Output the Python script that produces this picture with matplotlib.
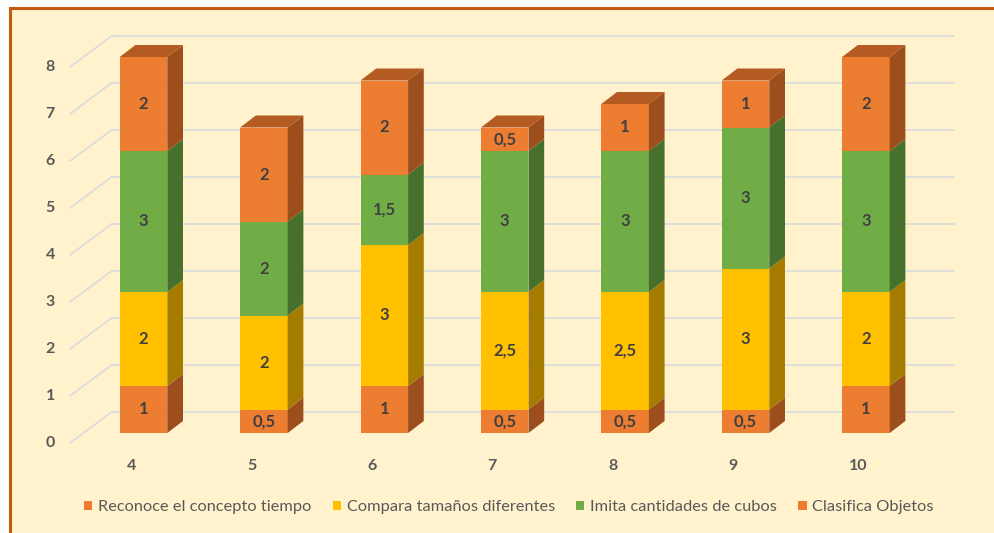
import matplotlib
matplotlib.use("Agg")
import matplotlib.pyplot as plt
from matplotlib.patches import Rectangle, Polygon, Patch

# ---------------- data ----------------
categories = ["4", "5", "6", "7", "8", "9", "10"]
series_names = ["Reconoce el concepto tiempo", "Compara tamaños diferentes",
                "Imita cantidades de cubos", "Clasifica Objetos"]
reconoce = [1, 0.5, 1, 0.5, 0.5, 0.5, 1]
compara = [2, 2, 3, 2.5, 2.5, 3, 2]
imita = [3, 2, 1.5, 3, 3, 3, 3]
clasifica = [2, 2, 2, 0.5, 1, 1, 2]
y_ticks = [0, 1, 2, 3, 4, 5, 6, 7, 8]

# ---------------- styles ----------------
front_colors = ["#ED7D31", "#FFC000", "#70AD47", "#ED7D31"]
side_colors = ["#9C4E1D", "#A67C00", "#46702C", "#9C4E1D"]
top_color = "#B35B22"
grid_color = "#D6DADF"
text_gray = "#595959"
label_gray = "#404040"
FONT = ["Lato", "DejaVu Sans"]

W_PX, H_PX = 994, 533
fig = plt.figure(figsize=(W_PX / 100, H_PX / 100), dpi=100, facecolor="white")

# background panel with orange border (right/bottom edges cropped away)
fig.add_artist(Rectangle((9.5 / W_PX, -0.2), 1.5, 1 - 8 / H_PX + 0.2,
                         transform=fig.transFigure, facecolor="#FFF2CC",
                         edgecolor="#C55A11", lw=2.2, zorder=0))

ax = fig.add_axes([83.3 / W_PX, 100 / H_PX, 842.8 / W_PX, 376 / H_PX])
ax.set_xlim(-0.5, len(categories) - 0.5)
ax.set_ylim(0, 8)
ax.axis("off")
ax.patch.set_visible(False)

p0 = ax.transData.transform((0, 0))
p1 = ax.transData.transform((1, 1))
sx, sy = (p1 - p0)


def off(px, py):
    return px / sx, py / sy


wall_dx, wall_dy = off(29, 21.5)
front_dx, front_dy = off(-13.3, -10)
dep_dx, dep_dy = off(15.7, 12)
x0, x1 = -0.5, len(categories) - 0.5

# gridlines: back wall + left wall diagonals
for v in y_ticks:
    ax.plot([x0 + wall_dx, x1 + wall_dx], [v + wall_dy] * 2, color=grid_color,
            lw=1.1, zorder=1, clip_on=False, solid_capstyle="butt")
    ax.plot([x0 + front_dx, x0 + wall_dx], [v + front_dy, v + wall_dy],
            color=grid_color, lw=1.1, zorder=1, clip_on=False)
    lx, ly = off(-33, -10)
    ax.text(x0 + lx, v + ly, str(v), ha="center", va="center", fontsize=11.5,
            fontweight="bold", color=text_gray, family=FONT, clip_on=False)

# bars
series = [reconoce, compara, imita, clasifica]
bw = 0.395
for i, cat in enumerate(categories):
    bottom = 0.0
    for s, vals in enumerate(series):
        h = vals[i]
        ax.add_patch(Rectangle((i - bw / 2, bottom), bw, h, facecolor=front_colors[s],
                               edgecolor="none", zorder=3, clip_on=False))
        xr = i + bw / 2
        ax.add_patch(Polygon([(xr, bottom), (xr + dep_dx, bottom + dep_dy),
                              (xr + dep_dx, bottom + h + dep_dy), (xr, bottom + h)],
                             closed=True, facecolor=side_colors[s], edgecolor="none",
                             zorder=3, clip_on=False))
        ax.text(i, bottom + h / 2, f"{h:g}".replace(".", ","), ha="center",
                va="center", fontsize=12, fontweight="bold", color=label_gray,
                family=FONT, zorder=5)
        bottom += h
    xl = i - bw / 2
    ax.add_patch(Polygon([(xl, bottom), (xl + dep_dx, bottom + dep_dy),
                          (xl + bw + dep_dx, bottom + dep_dy), (xl + bw, bottom)],
                         closed=True, facecolor=top_color, edgecolor="none",
                         zorder=3, clip_on=False))
    tx, ty = off(-17, -33)
    ax.text(i + tx, ty, cat, ha="left", va="center", fontsize=11.5,
            fontweight="bold", color=text_gray, family=FONT, clip_on=False)

handles = [Patch(facecolor=c, edgecolor="none") for c in front_colors]
fig.legend(handles, series_names, ncol=4, loc="center",
           bbox_to_anchor=(509 / W_PX, 1 - 507 / H_PX), frameon=False,
           handlelength=0.5, handleheight=0.5, handletextpad=0.35,
           columnspacing=1.3, prop={"family": FONT, "size": 11.8},
           labelcolor=text_gray)

fig.savefig("out.png", dpi=100, facecolor=fig.get_facecolor())
